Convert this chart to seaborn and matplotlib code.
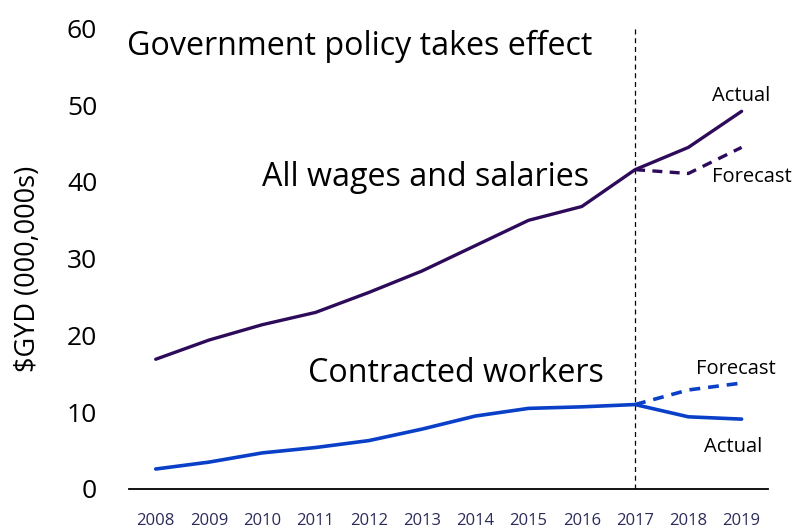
import matplotlib
matplotlib.use("Agg")
import matplotlib.pyplot as plt
import seaborn as sns
import pandas as pd

years = [2008, 2009, 2010, 2011, 2012, 2013, 2014, 2015, 2016, 2017, 2018, 2019]
all_wages = [16.9, 19.4, 21.4, 23.0, 25.6, 28.4, 31.7, 35.0, 36.8, 41.6, 44.5, 49.2]
contracted = [2.6, 3.5, 4.7, 5.4, 6.3, 7.8, 9.5, 10.5, 10.7, 11.0, 9.4, 9.1]
forecast_years = [2017, 2018, 2019]
all_wages_forecast = [41.6, 41.1, 44.5]
contracted_forecast = [11.0, 12.9, 13.8]
policy_year = 2017
y_ticks = [0, 10, 20, 30, 40, 50, 60]

PURPLE = "#2d0b5a"
BLUE = "#0a40c8"

sns.set_theme(style="white")
plt.rcParams["font.family"] = ["Open Sans", "DejaVu Sans"]

fig = plt.figure(figsize=(7.92, 5.30), dpi=100)
ax = fig.add_axes([0.163, 0.0774, 0.807, 0.869])

actual = pd.DataFrame({"year": years, "all": all_wages, "contracted": contracted})
fc = pd.DataFrame({"year": forecast_years, "all": all_wages_forecast,
                   "contracted": contracted_forecast})

sns.lineplot(data=fc, x="year", y="all", ax=ax, color=PURPLE, lw=2.4,
             linestyle=(0, (3, 2.2)))
sns.lineplot(data=fc, x="year", y="contracted", ax=ax, color=BLUE, lw=2.6,
             linestyle=(0, (3, 2.2)))
sns.lineplot(data=actual, x="year", y="all", ax=ax, color=PURPLE, lw=2.4)
sns.lineplot(data=actual, x="year", y="contracted", ax=ax, color=BLUE, lw=2.6)

ax.axvline(policy_year, ymin=0, ymax=1, color="black", lw=0.9,
           linestyle=(0, (4, 3)), zorder=1)

ax.set_xlim(2007.5, 2019.5)
ax.set_ylim(0, 60)
ax.set_xticks(years)
ax.set_xticklabels([str(y) for y in years], fontsize=12, color="#2b2b5b")
ax.set_yticks(y_ticks)
ax.set_yticklabels([str(v) for v in y_ticks], fontsize=19, color="black")
ax.tick_params(axis="x", length=0, pad=17)
ax.tick_params(axis="y", length=0, pad=23)
ax.set_xlabel("")
ax.set_ylabel("$GYD (000,000s)", fontsize=19.5, color="black")
ax.yaxis.set_label_coords(-0.137, 0.478)

for side in ["top", "right", "left"]:
    ax.spines[side].set_visible(False)
ax.spines["bottom"].set_color("black")
ax.spines["bottom"].set_linewidth(1.3)

ax.text(2007.46, 56.5, "Government policy takes effect", fontsize=23.2,
        ha="left", va="baseline", color="black")
ax.text(2010.0, 39.5, "All wages and salaries", fontsize=23.2,
        ha="left", va="baseline", color="black")
ax.text(2010.85, 13.9, "Contracted workers", fontsize=23.2,
        ha="left", va="baseline", color="black")
ax.text(2018.45, 50.6, "Actual", fontsize=14.5, ha="left", va="baseline", color="black")
ax.text(2018.45, 40.0, "Forecast", fontsize=14.5, ha="left", va="baseline", color="black")
ax.text(2018.14, 15.0, "Forecast", fontsize=14.5, ha="left", va="baseline", color="black")
ax.text(2018.29, 4.8, "Actual", fontsize=14.5, ha="left", va="baseline", color="black")

fig.savefig("out.png", dpi=100)
